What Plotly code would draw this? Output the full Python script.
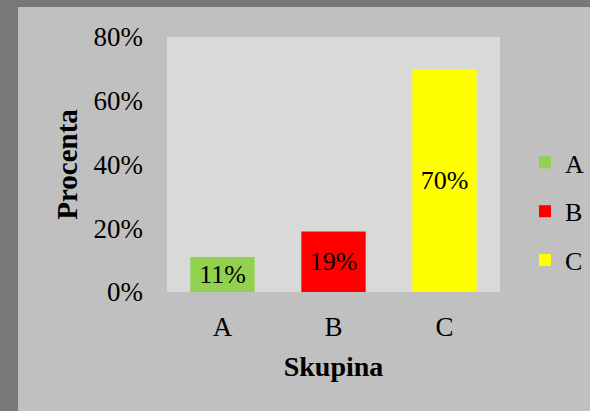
import plotly.graph_objects as go

categories = ["A", "B", "C"]
values = [0.11, 0.19, 0.70]
labels = ["11%", "19%", "70%"]
colors = ["#92d050", "#ff0000", "#ffff00"]
y_ticks = [0, 0.2, 0.4, 0.6, 0.8]
y_tick_labels = ["0%", "20%", "40%", "60%", "80%"]

FONT = "Liberation Serif"

fig = go.Figure()
for cat, val, lab, col in zip(categories, values, labels, colors):
    fig.add_trace(go.Bar(
        x=[cat], y=[val], name=cat, marker=dict(color=col, line=dict(width=0)),
        width=0.58, text=[lab], textposition="inside", insidetextanchor="middle",
        textfont=dict(family=FONT, size=26, color="black"), legendgroup=cat,
        textangle=0,
    ))

L, R, T, B = 167, 90, 37, 119
W, H = 590, 411
pw, ph = W - L - R, H - T - B

def px_x(x):
    return (x - L) / pw

def px_y(y):
    return (H - B - y) / ph

fig.update_layout(
    width=W, height=H,
    margin=dict(l=L, r=R, t=T, b=B, pad=0),
    paper_bgcolor="#c0c0c0", plot_bgcolor="#d9d9d9",
    barmode="overlay",
    font=dict(family=FONT, size=26, color="black"),
    showlegend=True,
    legend=dict(xref="container", yref="container",
                x=525 / W, xanchor="left", y=1 - 211.5 / H, yanchor="middle",
                bgcolor="rgba(0,0,0,0)", font=dict(family=FONT, size=26),
                tracegroupgap=12, itemclick=False, borderwidth=0),
    xaxis=dict(categoryorder="array", categoryarray=categories,
               showgrid=False, zeroline=False, showline=False, ticks="",
               ticklabelstandoff=16,
               tickfont=dict(family=FONT, size=27),
               title=dict(text="<b>Skupina</b>", font=dict(family=FONT, size=28), standoff=15)),
    yaxis=dict(range=[0, 0.8], tickvals=y_ticks, ticktext=y_tick_labels,
               showgrid=False, zeroline=False, showline=False, ticks="",
               ticklabelstandoff=23, tickfont=dict(family=FONT, size=27),
               title=dict(text="<b>Procenta</b>", font=dict(family=FONT, size=29), standoff=7)),
    shapes=[
        dict(type="rect", xref="paper", yref="paper", layer="above",
             x0=px_x(-2), x1=px_x(18), y0=px_y(H + 2), y1=px_y(-2),
             fillcolor="#787878", line=dict(width=0)),
        dict(type="rect", xref="paper", yref="paper", layer="above",
             x0=px_x(-2), x1=px_x(W + 2), y0=px_y(7), y1=px_y(-2),
             fillcolor="#787878", line=dict(width=0)),
    ],
)

fig.write_html(
    "out.html",
    config={"displayModeBar": False},
    post_script="document.body.style.margin='0';document.body.style.overflow='hidden';",
)
